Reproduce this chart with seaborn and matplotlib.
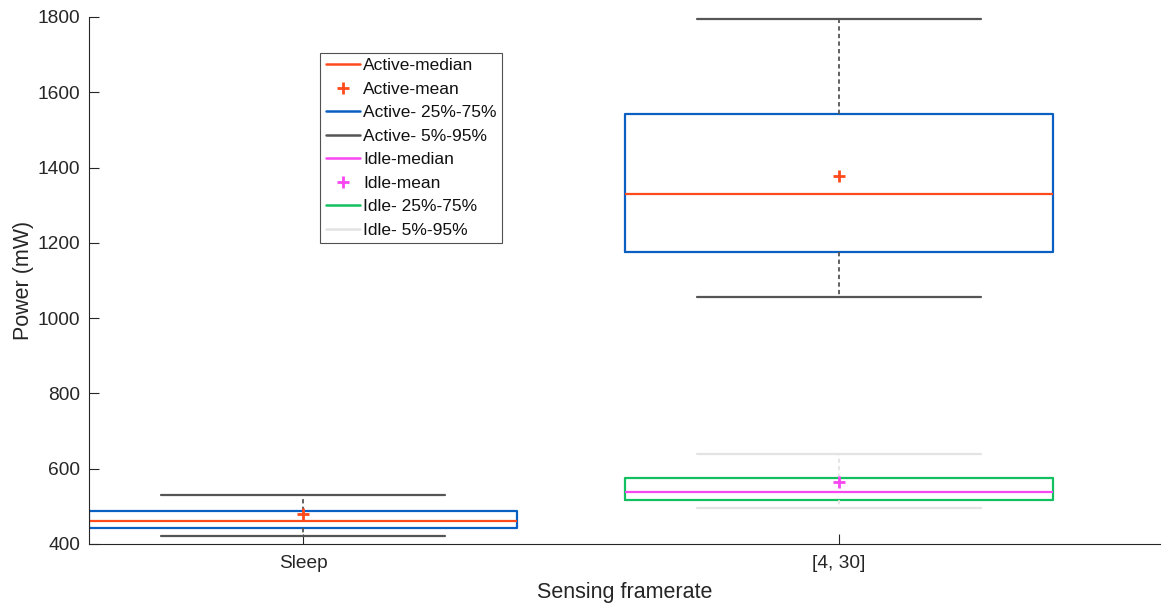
import matplotlib
matplotlib.use("Agg")
import matplotlib.pyplot as plt
from matplotlib.lines import Line2D
import seaborn as sns

# ---- data ----
categories = ["Sleep", "[4, 30]"]
positions = [1, 2]

active_median = [461, 1330]
active_mean = [480, 1378]
active_q1 = [442, 1176]
active_q3 = [487, 1541]
active_p5 = [420, 1055]
active_p95 = [530, 1796]

idle_categories = ["[4, 30]"]
idle_median = [538]
idle_mean = [566]
idle_q1 = [517]
idle_q3 = [575]
idle_p5 = [496]
idle_p95 = [640]

legend_labels = ["Active-median", "Active-mean", "Active- 25%-75%", "Active- 5%-95%",
                 "Idle-median", "Idle-mean", "Idle- 25%-75%", "Idle- 5%-95%"]

# ---- colors ----
c_act_med = "#FF4A1C"
c_act_box = "#0A5FC2"
c_act_whi = "#555555"
c_idl_med = "#F746F2"
c_idl_box = "#12C060"
c_idl_whi = "#E3E3E3"

sns.set_style("white", {"xtick.direction": "in", "ytick.direction": "in"})
plt.rcParams["font.family"] = ["Liberation Sans", "DejaVu Sans"]

fig = plt.figure(figsize=(11.62, 6.07), dpi=100)
ax = fig.add_axes([0.0766, 0.1038, 0.9217, 0.8682])


def make_stats(med, mean, q1, q3, lo, hi):
    return [dict(med=m, mean=mn, q1=a, q3=b, whislo=l, whishi=h, fliers=[])
            for m, mn, a, b, l, h in zip(med, mean, q1, q3, lo, hi)]


dash = (0, (2.4, 1.8))

act_stats = make_stats(active_median, active_mean, active_q1, active_q3, active_p5, active_p95)
ax.bxp(act_stats, positions=positions, widths=0.8, capwidths=0.53, showmeans=True,
       showfliers=False,
       boxprops=dict(color=c_act_box, linewidth=1.6),
       medianprops=dict(color=c_act_med, linewidth=1.6),
       whiskerprops=dict(color=c_act_whi, linewidth=1.3, linestyle=dash),
       capprops=dict(color=c_act_whi, linewidth=1.6),
       meanprops=dict(marker="+", markeredgecolor=c_act_med, markersize=9,
                      markeredgewidth=2, linestyle="none"))

idle_pos = [positions[categories.index(c)] for c in idle_categories]
idl_stats = make_stats(idle_median, idle_mean, idle_q1, idle_q3, idle_p5, idle_p95)
ax.bxp(idl_stats, positions=idle_pos, widths=0.8, capwidths=0.53, showmeans=True,
       showfliers=False,
       boxprops=dict(color=c_idl_box, linewidth=1.6),
       medianprops=dict(color=c_idl_med, linewidth=1.6),
       whiskerprops=dict(color=c_idl_whi, linewidth=1.3, linestyle=dash),
       capprops=dict(color=c_idl_whi, linewidth=1.6),
       meanprops=dict(marker="+", markeredgecolor=c_idl_med, markersize=9,
                      markeredgewidth=2, linestyle="none"))

ax.set_xlim(0.6, 2.6)
ax.set_ylim(400, 1800)
ax.set_xticks(positions)
ax.set_xticklabels(categories)
ax.set_yticks(range(400, 1801, 200))

for s in ["top", "right"]:
    ax.spines[s].set_visible(False)
for s in ["left", "bottom"]:
    ax.spines[s].set_color("#262626")
    ax.spines[s].set_linewidth(0.8)
ax.tick_params(axis="both", which="major", direction="in", length=7, width=0.8,
               colors="#262626", labelsize=13.8, left=True, bottom=True)
ax.tick_params(axis="y", pad=6.5)
ax.tick_params(axis="x", pad=8)

ax.set_xlabel("Sensing framerate", fontsize=15.5, color="#262626", labelpad=7)
ax.set_ylabel("Power (mW)", fontsize=15.5, color="#262626", labelpad=2.7)

handles = [
    Line2D([], [], color=c_act_med, lw=1.8),
    Line2D([], [], color=c_act_med, marker="+", ls="none", markersize=9, markeredgewidth=2),
    Line2D([], [], color=c_act_box, lw=1.8),
    Line2D([], [], color=c_act_whi, lw=1.8),
    Line2D([], [], color=c_idl_med, lw=1.8),
    Line2D([], [], color=c_idl_med, marker="+", ls="none", markersize=9, markeredgewidth=2),
    Line2D([], [], color=c_idl_box, lw=1.8),
    Line2D([], [], color=c_idl_whi, lw=1.8),
]
leg = ax.legend(handles, legend_labels, loc="upper left", bbox_to_anchor=(0.216, 0.932),
                borderaxespad=0, fontsize=12.5, frameon=True, fancybox=False,
                handlelength=2.0, handletextpad=0.17, labelspacing=0.48,
                borderpad=0.3)
leg.get_frame().set_edgecolor("#262626")
leg.get_frame().set_linewidth(0.8)
for t in leg.get_texts():
    t.set_color("#111111")

fig.savefig("out.png", dpi=100)
